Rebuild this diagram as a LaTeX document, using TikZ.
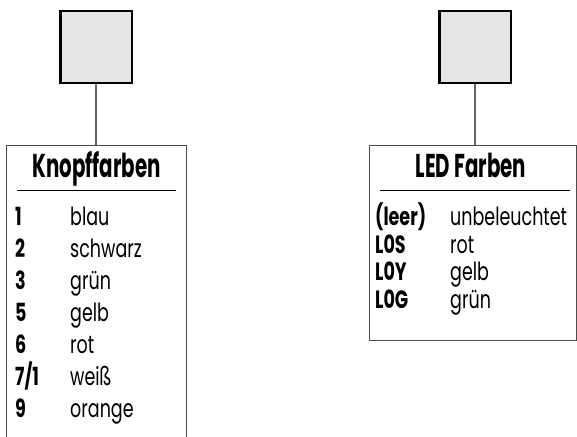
\documentclass[tikz,border=0pt]{standalone}
\usepackage{fontspec}
\setmainfont{Poppins}[FakeStretch=0.7]
\newfontfamily\ttlfont{Poppins}[FakeStretch=0.6]
\begin{document}
\begin{tikzpicture}[x=1pt,y=-1pt,
  sq/.style={draw=black,line width=2.5pt,fill=black!10,minimum width=71.5pt,minimum height=71.5pt,inner sep=0pt},
  panel/.style={draw=black!70,line width=1pt,inner sep=0pt},
  conn/.style={draw=black!60,line width=1.2pt},
  sepline/.style={draw=black,line width=0.8pt},
  ttl/.style={font=\ttlfont\bfseries\fontsize{33}{33}\selectfont,anchor=base,inner sep=0pt},
  key/.style={font=\bfseries\fontsize{25}{25}\selectfont,anchor=base west,inner sep=0pt},
  val/.style={font=\fontsize{25}{25}\selectfont,anchor=base west,inner sep=0pt}]
\useasboundingbox (0,0) rectangle (577,436);
\clip (0,0) rectangle (577,436);
% squares
\node[sq] (sqL) at (96,47) {};
\node[sq] (sqR) at (475,47) {};
% panels
\node[panel,minimum width=180pt,minimum height=315pt] (boxL) at (96,302.5) {};
\node[panel,minimum width=207pt,minimum height=195pt] (boxR) at (472.5,242.5) {};
% connectors
\draw[conn] (sqL.south) -- (sqL.south |- boxL.north);
\draw[conn] (sqR.south) -- (sqR.south |- boxR.north);
% titles
\node[ttl] (tL) at (96.5,177) {Knopffarben};
\node[ttl] (tR) at (471,177) {LED Farben};
\coordinate (sL1) at (17,190); \coordinate (sL2) at (176,190);
\coordinate (sR1) at (380,190); \coordinate (sR2) at (570,190);
\draw[sepline] (sL1) -- (sL2);
\draw[sepline] (sR1) -- (sR2);
% left rows
\foreach \k/\v [count=\i from 0] in {1/blau,2/schwarz,3/grün,5/gelb,6/rot,{7/1}/weiß,9/orange}{
  \node[key] (kL\i) at (15,225+32*\i) {\k};
  \node[val] (vL\i) at (70,225+32*\i) {\v};
}
% right rows
\node[key] (kR0) at (375,225) {(leer)};   \node[val] (vR0) at (450,225) {unbeleuchtet};
\node[key] (kR1) at (375,253) {L0S};      \node[val] (vR1) at (450,253) {rot};
\node[key] (kR2) at (375,280.5) {L0Y};    \node[val] (vR2) at (450,280.5) {gelb};
\node[key] (kR3) at (375,308) {L0G};      \node[val] (vR3) at (450,308) {grün};
\end{tikzpicture}
\end{document}
